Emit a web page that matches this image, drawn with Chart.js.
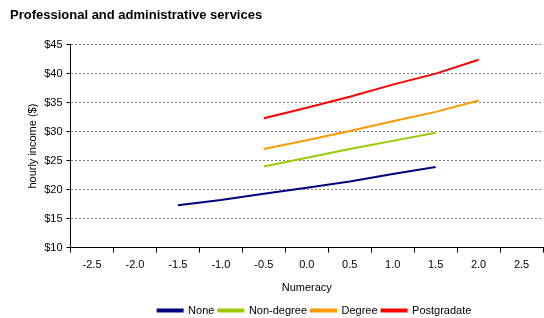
<!DOCTYPE html>
<html><head><meta charset="utf-8">
<script src="https://cdn.jsdelivr.net/npm/chart.js@4/dist/chart.umd.min.js"></script>
<style>html,body{margin:0;padding:0;background:#fff}#wrap{width:544px;height:318px}</style>
</head><body><div id="wrap"><canvas id="c" width="544" height="318"></canvas></div>
<script>
const categories = ['-2.5','-2.0','-1.5','-1.0','-0.5','0.0','0.5','1.0','1.5','2.0','2.5'];
const noneVals = [null,null,17.3,18.2,19.3,20.3,21.4,22.7,23.9,null,null];
const nonDegreeVals = [null,null,null,null,24.0,25.5,27.0,28.4,29.8,null,null];
const degreeVals = [null,null,null,null,27.0,28.5,30.1,31.8,33.4,35.35,null];
const postgradVals = [null,null,null,null,32.3,34.1,36.0,38.1,40.0,42.4,null];
const seriesNames = ['None','Non-degree','Degree','Postgradate'];
const yTicks = [10,15,20,25,30,35,40,45];

const FONT = "'Liberation Sans', Arial, sans-serif";
Chart.defaults.font.family = FONT;
Chart.defaults.color = '#000';

const colors = ['#000080','#99cc00','#ff9900','#ff0000'];
const vals = [noneVals, nonDegreeVals, degreeVals, postgradVals];

const legendShift = {
  id: 'legendShift',
  afterLayout(chart) {
    const lg = chart.legend;
    if (lg) { lg.left += 38; lg.right += 38; }
  }
};

new Chart(document.getElementById('c'), {
  type: 'line',
  data: {
    labels: categories,
    datasets: vals.map((v,i)=>({
      label: seriesNames[i], data: v, borderColor: colors[i], backgroundColor: colors[i],
      borderWidth: 2, pointRadius: 0, tension: 0, fill: false
    }))
  },
  plugins: [legendShift],
  options: {
    responsive: false, animation: false, devicePixelRatio: 1,
    layout: { padding: { left: 10, right: 1, top: 0, bottom: -8 } },
    plugins: {
      title: { display: true, text: 'Professional and administrative services', align: 'start',
        font: { size: 13, weight: 'bold', family: FONT }, color: '#000', padding: { top: 8, bottom: 21 } },
      legend: { position: 'bottom', labels: { usePointStyle: false, boxWidth: 25, boxHeight: 2, font: { size: 11 }, padding: 4, color: '#000' } },
      tooltip: { enabled: false }
    },
    scales: {
      x: {
        type: 'category', offset: true,
        grid: { display: true, offset: true, drawOnChartArea: false, tickLength: 5, tickColor: '#000' },
        border: { color: '#000', width: 1 },
        ticks: { font: { size: 11 }, maxRotation: 0, padding: 6, autoSkip: false },
        title: { display: true, text: 'Numeracy', font: { size: 11 }, padding: { top: 4, bottom: 6 } }
      },
      y: {
        min: 10, max: 45,
        afterBuildTicks: (s) => { s.ticks = yTicks.map(v => ({ value: v })); },
        grid: { color: (c) => (c.tick && c.tick.value === 10) ? 'rgba(0,0,0,0)' : '#808080', lineWidth: 1, tickLength: 4, tickColor: '#000' },
        border: { color: '#000', width: 1, dash: [2, 2] },
        ticks: { font: { size: 11 }, padding: 4, callback: (v) => '$' + v },
        title: { display: true, text: 'hourly income ($)', font: { size: 11 }, padding: { top: 16, bottom: 1 } }
      }
    }
  }
});
</script></body></html>
